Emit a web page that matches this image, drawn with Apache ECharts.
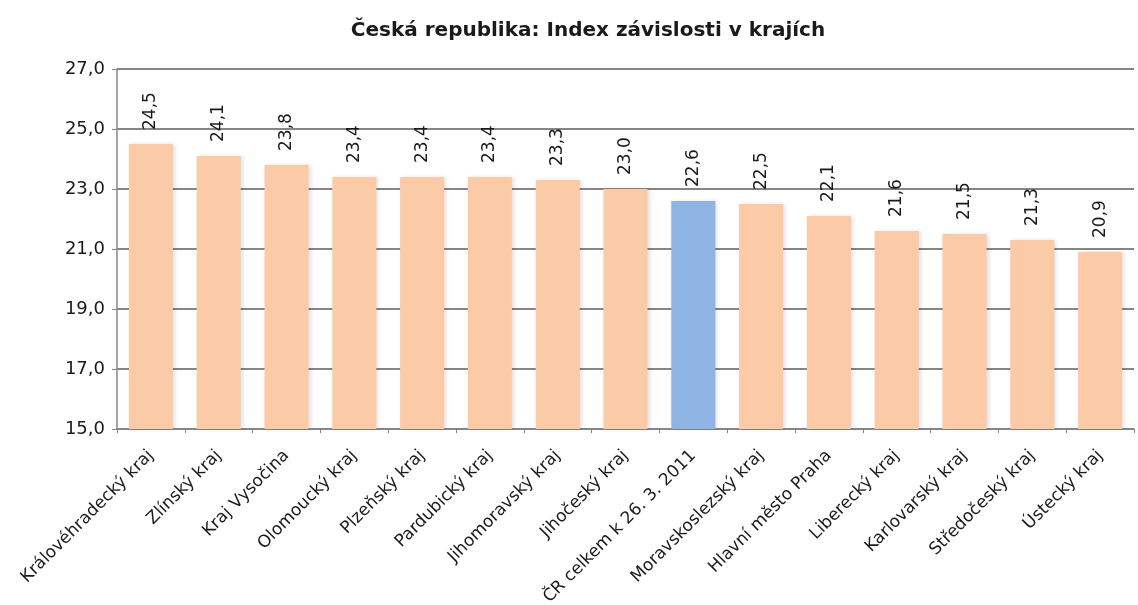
<!DOCTYPE html>
<html>
<head>
<meta charset="utf-8">
<script src="https://cdn.jsdelivr.net/npm/echarts@6/dist/echarts.min.js"></script>
<style>
  html, body { margin: 0; padding: 0; background: #fff; }
  #chart { width: 1138px; height: 605px; }
</style>
</head>
<body>
<div id="chart"></div>
<script>
// kraje
var categories = [
  "Královéhradecký kraj", "Zlínský kraj", "Kraj Vysočina", "Olomoucký kraj",
  "Plzeňský kraj", "Pardubický kraj", "Jihomoravský kraj", "Jihočeský kraj",
  "ČR celkem k 26. 3. 2011", "Moravskoslezský kraj", "Hlavní město Praha",
  "Liberecký kraj", "Karlovarský kraj", "Středočeský kraj", "Ústecký kraj"
];
var values = [24.5, 24.1, 23.8, 23.4, 23.4, 23.4, 23.3, 23.0, 22.6, 22.5, 22.1, 21.6, 21.5, 21.3, 20.9];
var highlightName = "ČR celkem k 26. 3. 2011"; // modrý sloupec
var yTicks = [15, 17, 19, 21, 23, 25, 27];

var FONT = "DejaVu Sans, Arial, sans-serif";

function fmt(v) {
  return Number(v).toFixed(1).replace(".", ",");
}

var myChart = echarts.init(document.getElementById("chart"));
var option = {
  animation: false,
  title: {
    text: "Česká republika: Index závislosti v krajích",
    left: 583,
    textAlign: "center",
    top: 16,
    textStyle: {
      fontFamily: FONT,
      fontSize: 20,
      fontWeight: "bold",
      color: "#1a1a1a",
    },
  },
  grid: {
    left: 117,
    top: 69,
    right: 4,
    bottom: 176,
    outerBoundsMode: "none",
  },
  xAxis: {
    type: "category",
    data: categories,
    boundaryGap: true,
    axisLine: { lineStyle: { color: "#868686", width: 1.5 } },
    axisTick: { show: true, length: 4, lineStyle: { color: "#868686" } },
    axisLabel: {
      rotate: 45,
      interval: 0,
      margin: 24,
      fontFamily: FONT,
      fontSize: 17,
      color: "#1a1a1a",
    },
  },
  yAxis: {
    type: "value",
    min: yTicks[0],
    max: yTicks[yTicks.length - 1],
    interval: 2,
    axisLine: { show: true, lineStyle: { color: "#868686", width: 1.5 } },
    axisTick: { show: true, length: 5, lineStyle: { color: "#868686" } },
    axisLabel: {
      margin: 12,
      fontFamily: FONT,
      fontSize: 18,
      color: "#1a1a1a",
      formatter: function (v) { return fmt(v); },
    },
    splitLine: { lineStyle: { color: "#868686", width: 1.8 } },
  },
  series: [
    {
      type: "bar",
      barWidth: "65%",
      data: values.map(function (v, i) {
        return {
          value: v,
          itemStyle: {
            color: categories[i] === highlightName ? "#8db4e2" : "#fbcba7",
          },
        };
      }),
      itemStyle: {
        shadowBlur: 4,
        shadowColor: "rgba(0,0,0,0.12)",
        shadowOffsetX: 2,
      },
      label: {
        show: true,
        position: "top",
        rotate: 90,
        distance: 14,
        align: "left",
        verticalAlign: "middle",
        fontFamily: FONT,
        fontSize: 17,
        color: "#1a1a1a",
        formatter: function (p) { return fmt(p.value); },
      },
    },
  ],
};
option && myChart.setOption(option);
</script>
</body>
</html>
